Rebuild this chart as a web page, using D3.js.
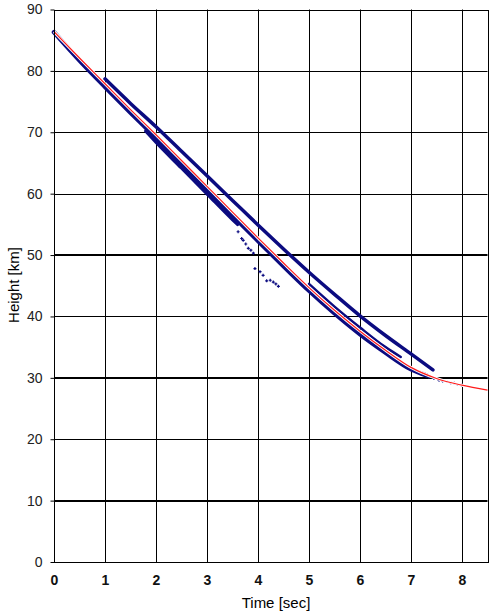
<!DOCTYPE html>
<html>
<head>
<meta charset="utf-8">
<script src="https://cdn.jsdelivr.net/npm/d3@7"></script>
<style>
  body { margin: 0; background: #fff; }
  text { font-family: "Liberation Sans", Arial, sans-serif; }
</style>
</head>
<body>
<svg width="496" height="616"></svg>
<script>
// fitted trajectory (red)
var fitT = [0, 0.5, 1, 1.5, 2, 2.5, 3, 3.5, 4, 4.5, 5, 5.5, 6, 6.5, 7, 7.5, 8, 8.5];
var fitH = [86.4, 82.1, 77.9, 73.7, 69.6, 65.4, 61.2, 57.0, 52.8, 48.7, 44.7, 41.0, 37.6, 34.5, 31.7, 29.9, 28.8, 28.0];

// observed tracks (blue)
var trackAT = [0, 0.5, 1, 1.5, 2, 2.5, 3, 3.5, 4, 4.5, 5, 5.5, 6, 6.5, 7, 7.3];
var trackAH = [86.3, 81.7, 77.4, 73.2, 69.1, 64.9, 60.7, 56.5, 52.3, 48.2, 44.2, 40.5, 37.1, 34.1, 31.4, 30.4];
var trackBT = [1.0, 1.5, 2, 2.5, 3, 3.5, 4, 4.5, 5, 5.5, 6, 6.5, 7, 7.43];
var trackBH = [78.7, 74.7, 70.9, 66.9, 62.9, 58.9, 54.9, 51.0, 47.2, 43.6, 40.1, 36.9, 33.9, 31.3];
var trackCT = [1.8, 2, 2.5, 3, 3.5, 3.6];
var trackCH = [70.2, 68.4, 64.2, 60.0, 55.8, 55.0];
var trackET = [5.0, 5.5, 6, 6.5, 6.8];
var trackEH = [45.3, 41.6, 38.2, 35.0, 33.4];
// sparse points
var outT = [3.61, 3.68, 3.71, 3.76, 3.81, 3.86, 3.91, 3.94, 4.04, 4.10, 4.17, 4.24, 4.30, 4.35, 4.40,
            7.35, 7.45, 7.55, 7.62, 7.7, 7.78, 7.85, 7.92, 7.99];
var outH = [53.8, 52.7, 52.4, 51.8, 51.1, 50.8, 50.3, 47.8, 47.3, 46.7, 45.8, 45.9, 45.6, 45.3, 44.9,
            30.1, 29.9, 29.6, 29.5, 29.4, 29.2, 29.1, 28.9, 28.8];

var xTicks = [0, 1, 2, 3, 4, 5, 6, 7, 8];
var yTicks = [0, 10, 20, 30, 40, 50, 60, 70, 80, 90];
var thickY = [10, 30, 50];

var svg = d3.select("svg");
var x = d3.scaleLinear().domain([0, 8.5]).range([54, 487.5]);
var y = d3.scaleLinear().domain([0, 90]).range([562, 9.5]);
var navy = "#0b0b80";

function px(v) { return Math.round(v) + 0.5; }

var grid = svg.append("g");
grid.selectAll("line.v")
  .data(xTicks.slice(1))
  .enter().append("line")
    .attr("x1", d => px(x(d))).attr("x2", d => px(x(d)))
    .attr("y1", y(90)).attr("y2", y(0))
    .attr("stroke", "#000").attr("stroke-width", 1);
grid.selectAll("line.h")
  .data(yTicks.slice(1, -1))
  .enter().append("line")
    .attr("x1", x(0)).attr("x2", x(8.5))
    .attr("y1", d => thickY.indexOf(d) >= 0 ? Math.round(y(d)) : px(y(d)))
    .attr("y2", d => thickY.indexOf(d) >= 0 ? Math.round(y(d)) : px(y(d)))
    .attr("stroke", "#000")
    .attr("stroke-width", d => thickY.indexOf(d) >= 0 ? 2 : 1);

// data
var line = d3.line().x(d => x(d[0])).y(d => y(d[1])).curve(d3.curveMonotoneX);
function zip(a, b) { return a.map((t, i) => [t, b[i]]); }

var tracks = [
  {pts: zip(trackAT, trackAH), w: 4.5},
  {pts: zip(trackBT, trackBH), w: 3.5},
  {pts: zip(trackCT, trackCH), w: 3.5},
  {pts: zip(trackET, trackEH), w: 2.5}
];
svg.append("g").selectAll("path")
  .data(tracks)
  .enter().append("path")
    .attr("d", d => line(d.pts))
    .attr("fill", "none")
    .attr("stroke", navy)
    .attr("stroke-width", d => d.w)
    .attr("stroke-linecap", "round");

svg.append("g").selectAll("path")
  .data(zip(outT, outH))
  .enter().append("path")
    .attr("d", d => "M" + (x(d[0]) - 1.5) + "," + y(d[1]) + "h3M" + x(d[0]) + "," + (y(d[1]) - 1.5) + "v3")
    .attr("stroke", navy)
    .attr("stroke-width", 1.2);

var fit = zip(fitT, fitH);
svg.append("path")
  .attr("d", line(fit))
  .attr("fill", "none")
  .attr("stroke", "#fff")
  .attr("stroke-width", 3);
svg.append("path")
  .attr("d", line(fit))
  .attr("fill", "none")
  .attr("stroke", "#ff1a1a")
  .attr("stroke-width", 1.2);

// frame
svg.append("rect")
  .attr("x", px(x(0))).attr("y", px(y(90)))
  .attr("width", Math.round(x(8.5)) - Math.round(x(0)))
  .attr("height", Math.round(y(0)) - Math.round(y(90)))
  .attr("fill", "none").attr("stroke", "#000");

// axes
var yAxis = d3.axisLeft(y).tickValues(yTicks).tickSize(4).tickPadding(8);
var gy = svg.append("g").attr("transform", "translate(" + px(x(0)) + ",0)").call(yAxis);
gy.select(".domain").remove();
gy.selectAll("text").attr("font-size", 14).attr("fill", "#222")
  .attr("font-family", "'Liberation Sans', Arial, sans-serif");

var xAxis = d3.axisBottom(x).tickValues(xTicks).tickSize(0).tickPadding(13);
var gx = svg.append("g").attr("transform", "translate(0," + px(y(0)) + ")").call(xAxis);
gx.select(".domain").remove();
gx.selectAll("text").attr("font-size", 14).attr("font-weight", "bold").attr("fill", "#111")
  .attr("font-family", "'Liberation Sans', Arial, sans-serif");

svg.append("text")
  .attr("x", 276).attr("y", 608)
  .attr("text-anchor", "middle")
  .attr("font-size", 15)
  .text("Time [sec]");

svg.append("text")
  .attr("transform", "translate(19,285) rotate(-90)")
  .attr("text-anchor", "middle")
  .attr("font-size", 15)
  .text("Height [km]");
</script>
</body>
</html>
